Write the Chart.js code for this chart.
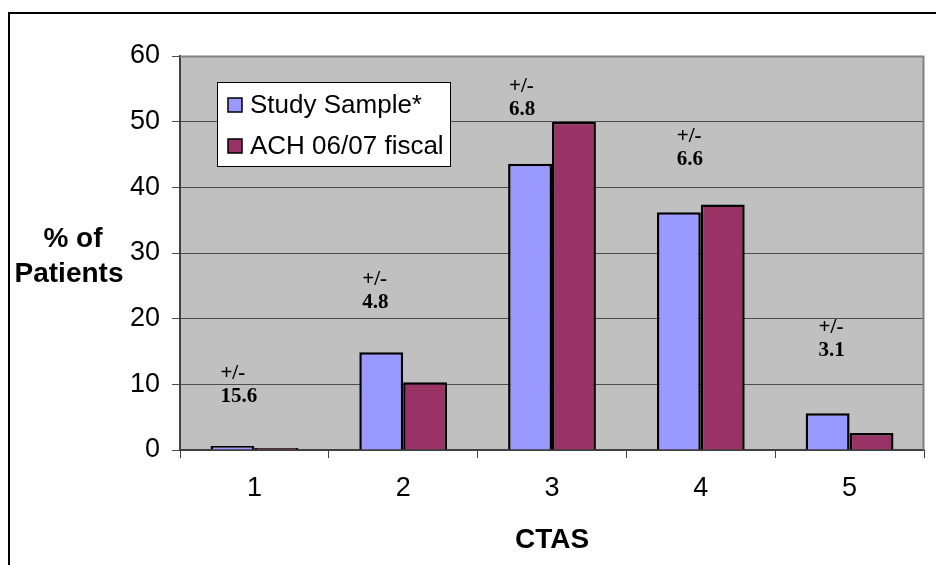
<!DOCTYPE html>
<html>
<head>
<meta charset="utf-8">
<script src="https://cdn.jsdelivr.net/npm/chart.js@4/dist/chart.umd.min.js"></script>
<style>
  html, body { margin: 0; padding: 0; background: #fff; }
  #wrap { width: 936px; height: 565px; }
</style>
</head>
<body>
<div id="wrap"><canvas id="chart" width="936" height="565"></canvas></div>
<script>
const categories = ["1", "2", "3", "4", "5"];
const studySample = [0.6, 14.9, 43.6, 36.2, 5.6];
const achFiscal = [0.3, 10.3, 50.0, 37.4, 2.6];
const errorMargins = ["15.6", "4.8", "6.8", "6.6", "3.1"];
const seriesNames = ["Study Sample*", "ACH 06/07 fiscal"];
const yTicks = [0, 10, 20, 30, 40, 50, 60];

const blue = "#9999ff";
const plum = "#993366";

// where each "+/-" note sits: pixel offset from category centre, value on y scale
const notePos = [
  { dx: -34, v: 11.7 },
  { dx: -41, v: 26.0 },
  { dx: -43, v: 55.3 },
  { dx: -24, v: 47.8 },
  { dx: -31, v: 18.7 }
];

const decor = {
  id: "decor",
  beforeDraw(chart) {
    const ctx = chart.ctx;
    const a = chart.chartArea;
    ctx.save();
    // outer frame
    ctx.strokeStyle = "#000";
    ctx.lineWidth = 2;
    ctx.strokeRect(9, 13, 1000, 1000);
    // plot background
    ctx.fillStyle = "#c0c0c0";
    ctx.fillRect(a.left, a.top, a.right - a.left, a.bottom - a.top);
    ctx.restore();
  },
  afterDatasetsDraw(chart) {
    const ctx = chart.ctx;
    const a = chart.chartArea;
    const x = chart.scales.x;
    const y = chart.scales.y;
    ctx.save();
    // top and right plot border
    ctx.strokeStyle = "#808080";
    ctx.lineWidth = 2;
    ctx.beginPath();
    ctx.moveTo(a.left, a.top + 0.5);
    ctx.lineTo(a.right - 0.5, a.top + 0.5);
    ctx.lineTo(a.right - 0.5, a.bottom);
    ctx.stroke();

    // +/- notes
    ctx.fillStyle = "#000";
    ctx.font = "bold 21px 'Liberation Serif', 'Times New Roman', serif";
    ctx.textAlign = "left";
    ctx.textBaseline = "middle";
    errorMargins.forEach((m, i) => {
      const px = x.getPixelForValue(i) + notePos[i].dx;
      const py = y.getPixelForValue(notePos[i].v);
      ctx.fillText("+/-", px, py);
      ctx.fillText(m, px, py + 23);
    });

    // legend
    ctx.fillStyle = "#fff";
    ctx.fillRect(217, 82, 233, 84);
    ctx.strokeStyle = "#000";
    ctx.lineWidth = 1;
    ctx.strokeRect(217.5, 82.5, 233, 84);
    const cols = [blue, plum];
    ctx.font = "26px 'Liberation Sans', Arial, sans-serif";
    seriesNames.forEach((n, i) => {
      const ry = 98 + i * 41;
      ctx.fillStyle = cols[i];
      ctx.fillRect(228, ry, 14, 14);
      ctx.strokeStyle = "#000";
      ctx.lineWidth = 1.5;
      ctx.strokeRect(228, ry, 14, 14);
      ctx.fillStyle = "#000";
      ctx.fillText(n, 250, ry + 8);
    });

    // y title, horizontal
    ctx.font = "bold 28px 'Liberation Sans', Arial, sans-serif";
    ctx.textAlign = "center";
    ctx.fillText("% of", 73, 239);
    ctx.fillText("Patients", 69, 274);
    ctx.restore();
  }
};

new Chart(document.getElementById("chart"), {
  type: "bar",
  data: {
    labels: categories,
    datasets: [
      { label: seriesNames[0], data: studySample, backgroundColor: blue, borderColor: "#000", borderWidth: 2.5 },
      { label: seriesNames[1], data: achFiscal, backgroundColor: plum, borderColor: "#000", borderWidth: 2.5 }
    ]
  },
  options: {
    responsive: false,
    animation: false,
    layout: { padding: { left: 0, top: 56, right: 12, bottom: 0 } },
    datasets: { bar: { categoryPercentage: 0.59, barPercentage: 1.0 } },
    plugins: { legend: { display: false }, tooltip: { enabled: false } },
    scales: {
      x: {
        afterFit(s) { s.height = 115; },
        grid: { display: true, drawOnChartArea: false, offset: true, tickLength: 8, color: "#404040", lineWidth: 1 },
        border: { display: true, color: "#404040", width: 2 },
        ticks: { color: "#000", padding: 14, font: { family: "'Liberation Sans', Arial, sans-serif", size: 27 } },
        title: {
          display: true, text: "CTAS", color: "#000",
          font: { family: "'Liberation Sans', Arial, sans-serif", size: 28, weight: "bold" },
          padding: { top: 0, bottom: 8 }
        }
      },
      y: {
        min: 0, max: 60,
        afterFit(s) { s.width = 180; },
        afterBuildTicks(s) { s.ticks = yTicks.map(v => ({ value: v })); },
        grid: { color: "#4d4d4d", lineWidth: 1, tickLength: 8 },
        border: { display: true, color: "#404040", width: 2 },
        ticks: { color: "#000", padding: 12, font: { family: "'Liberation Sans', Arial, sans-serif", size: 27 } }
      }
    }
  },
  plugins: [decor]
});
</script>
</body>
</html>
